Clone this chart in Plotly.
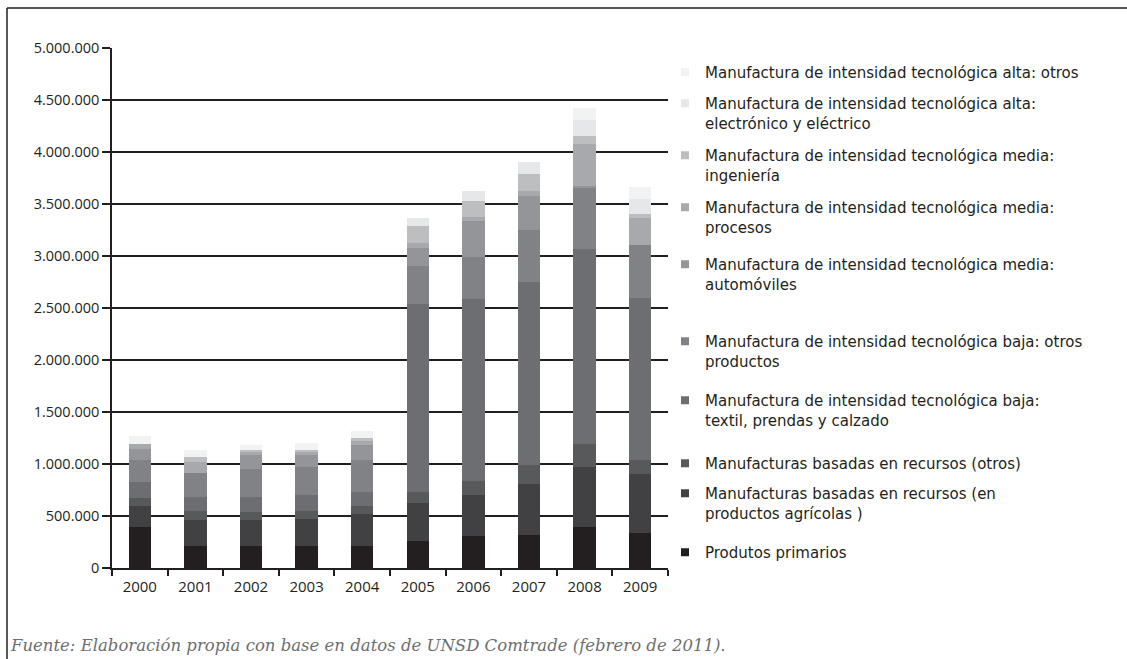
import plotly.graph_objects as go

years = ["2000", "2001", "2002", "2003", "2004", "2005", "2006", "2007", "2008", "2009"]

# series, bottom of the stack first
series_names = [
    "Produtos primarios",
    "Manufacturas basadas en recursos (en<br>productos agrícolas )",
    "Manufacturas basadas en recursos (otros)",
    "Manufactura de intensidad tecnológica baja:<br>textil, prendas y calzado",
    "Manufactura de intensidad tecnológica baja: otros<br>productos",
    "Manufactura de intensidad tecnológica media:<br>automóviles",
    "Manufactura de intensidad tecnológica media:<br>procesos",
    "Manufactura de intensidad tecnológica media:<br>ingeniería",
    "Manufactura de intensidad tecnológica alta:<br>electrónico y eléctrico",
    "Manufactura de intensidad tecnológica alta: otros",
]

primarios = [397000, 210000, 210000, 210000, 210000, 258000, 307000, 316000, 397000, 338000]
agricolas = [200000, 251000, 251000, 261000, 309000, 370000, 397000, 493000, 571000, 568000]
recursos_otros = [80000, 90000, 80000, 80000, 77000, 106000, 135000, 184000, 220000, 135000]
textil = [152000, 135000, 145000, 152000, 138000, 1806000, 1750000, 1760000, 1876000, 1557000]
baja_otros = [213000, 226000, 268000, 264000, 307000, 367000, 397000, 493000, 590000, 506000]
automoviles = [106000, 0, 135000, 123000, 145000, 174000, 351000, 332000, 16000, 0]
procesos = [48000, 112000, 26000, 26000, 39000, 48000, 36000, 43000, 409000, 258000]
ingenieria = [0, 43000, 22000, 22000, 26000, 155000, 158000, 170000, 77000, 42000]
electronico = [0, 0, 0, 0, 0, 77000, 97000, 113000, 155000, 145000]
alta_otros = [71000, 71000, 48000, 68000, 71000, 0, 0, 0, 116000, 113000]

values = [primarios, agricolas, recursos_otros, textil, baja_otros,
          automoviles, procesos, ingenieria, electronico, alta_otros]

colors = ["#231f20", "#414042", "#58595b", "#6d6e71", "#808285",
          "#939598", "#a7a9ac", "#bcbec0", "#e6e7e8", "#f1f2f2"]

# centre of the first text line of each legend entry, in pixels from the top
legend_rows = [552, 493, 463, 400, 341, 264, 207, 155, 103, 72]

W, H = 1127, 659
ML, MR, MT, MB = 112, 459, 48, 91
pw, ph = W - ML - MR, H - MT - MB

def px_x(x):
    return (x - ML) / pw

def px_y(y):
    return (H - MB - y) / ph

txt = "#231f20"
fnt = "DejaVu Sans"
tick_fnt = "Open Sans"

fig = go.Figure()
layout_legends = {}
for i, (name, vals, col) in enumerate(zip(series_names, values, colors)):
    lg = "legend" if i == 0 else f"legend{i + 1}"
    fig.add_trace(go.Bar(x=years, y=vals, name=name, marker_color=col,
                         marker_line_width=0, showlegend=False))
    fig.add_trace(go.Scatter(x=[None], y=[None], mode="markers", name=name,
                             marker=dict(symbol="square", size=8, color=col),
                             legend=lg, showlegend=True))
    layout_legends[lg] = dict(
        x=px_x(665), y=px_y(legend_rows[i] - 16), xanchor="left", yanchor="top",
        valign="top", itemwidth=30, bgcolor="rgba(0,0,0,0)",
        font=dict(family=fnt, size=15, color=txt))

fig.update_layout(
    width=W, height=H,
    margin=dict(l=ML, r=MR, t=MT, b=MB),
    barmode="stack", bargap=0.6,
    plot_bgcolor="white", paper_bgcolor="white",
    separators=",.",
    font=dict(family=fnt, color=txt),
    xaxis=dict(type="category", showline=True, linecolor=txt, linewidth=1.5,
               ticks="outside", tickson="boundaries", ticklen=6, tickwidth=1.5,
               tickcolor=txt, showgrid=False, ticklabelstandoff=4,
               tickfont=dict(family=tick_fnt, size=15, color=txt)),
    yaxis=dict(range=[0, 5000000], dtick=500000, tickformat=",d",
               showline=True, linecolor=txt, linewidth=1.5,
               ticks="outside", ticklen=8, tickwidth=1.5, tickcolor=txt,
               showgrid=True, gridcolor=txt, gridwidth=2, zeroline=False,
               tickfont=dict(family=tick_fnt, size=14.5, color=txt)),
    **layout_legends,
)

# frame around the figure (left and top edges)
fig.add_shape(type="line", xref="paper", yref="paper",
              x0=px_x(7), x1=px_x(7), y0=px_y(8), y1=px_y(H), line=dict(color=txt, width=1.5))
fig.add_shape(type="line", xref="paper", yref="paper",
              x0=px_x(7), x1=px_x(W), y0=px_y(8), y1=px_y(8), line=dict(color=txt, width=1.5))

fig.add_annotation(xref="paper", yref="paper", x=px_x(8), y=px_y(645),
                   xanchor="left", yanchor="middle", showarrow=False,
                   text="<i>Fuente: Elaboración propia con base en datos de UNSD Comtrade (febrero de 2011).</i>",
                   font=dict(family="DejaVu Serif", size=16.5, color="#6d6e71"))

fig.write_html("out.html", config={"displayModeBar": False},
               post_script="document.body.style.margin='0px';")
